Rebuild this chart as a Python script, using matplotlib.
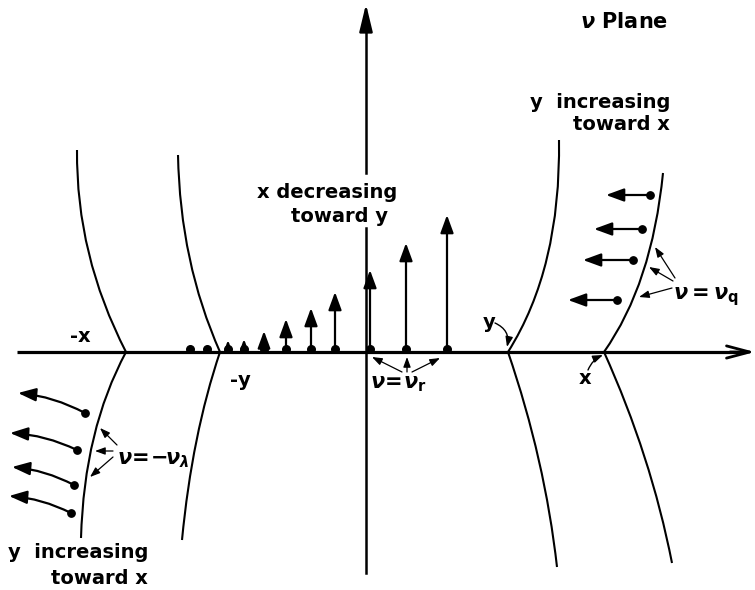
import matplotlib
matplotlib.use("Agg")
import matplotlib.pyplot as plt
from matplotlib.path import Path
from matplotlib.patches import PathPatch

plt.rcParams.update({
    'font.family': 'DejaVu Sans',
    'font.weight': 'bold',
    'mathtext.fontset': 'dejavusans',
})

# ── data (picture coordinates, y grows downward) ─────────────────────────
# dots on the real axis and the height each vertical arrow reaches
axis_dot_x = [190, 207, 228, 244, 264, 286, 311, 335, 370, 406, 447]
axis_tip_y = [349, 349, 340, 339, 331, 319, 308, 292, 270, 243, 215]
AXIS_DOT_Y = 349

# branch curves: vertex on the axis, bezier control point, far end
branch_names = ['-x', '-y', 'y', 'x']
branch_vertex = [(126, 352), (220, 352), (508, 352), (604, 352)]
upper_ctrl = [(76, 255), (180, 262), (561, 268), (652, 284)]
upper_end = [(77, 150), (178, 155), (559, 140), (663, 173)]
lower_ctrl = [(84, 430), (192, 435), (545, 460), (651, 456)]
lower_end = [(81, 538), (182, 540), (557, 567), (672, 563)]

# arrows from the ν = -ν_λ points (lower left), dot -> tip
left_dots = [(85, 413), (77, 450), (74, 485), (71, 513)]
left_tips = [(18, 393), (10, 433), (12, 467), (9, 496)]

# arrows from the ν = ν_q points (upper right), dot -> tip
right_dots = [(650, 195), (642, 229), (633, 260), (617, 300)]
right_tips = [(606, 195), (594, 229), (583, 260), (568, 300)]

# pointer arrows from labels to the curves / dots
lam_from = [(117, 445), (113, 451), (113, 457)]
lam_to = [(100, 428), (95, 451), (90, 477)]
q_from = [(675, 278), (673, 281), (672, 288)]
q_to = [(655, 247), (649, 267), (639, 297)]
r_from = [(402, 372), (407, 372), (412, 372)]
r_to = [(372, 357), (407, 357), (440, 358)]

fig = plt.figure(figsize=(7.55, 5.9), dpi=100)
ax = fig.add_axes([0, 0, 1, 1])
ax.set_xlim(0, 755)
ax.set_ylim(590, 0)
ax.axis('off')

FS = 14


def arrow(p_from, p_to, lw=1.6, hl=0.6, hw=0.2, ms=18, rad=0.0, style='-|>'):
    ax.annotate('', xy=p_to, xytext=p_from,
                arrowprops=dict(arrowstyle=f'{style},head_length={hl},head_width={hw}',
                                lw=lw, color='k', mutation_scale=ms,
                                shrinkA=0, shrinkB=0,
                                connectionstyle=f'arc3,rad={rad}'))


# ── axes ─────────────────────────────────────────────────────────────────
ax.plot([17, 745], [352, 352], color='k', lw=2.3, solid_capstyle='butt')
arrow((730, 352), (755, 352), lw=2.0, hl=0.83, hw=0.22, ms=20, style='->')
ax.plot([366, 366], [573, 228], color='k', lw=1.8)
ax.plot([366, 366], [173, 20], color='k', lw=1.8)
arrow((366, 30), (366, 4), lw=1.8, hl=0.83, hw=0.2, ms=20)

# ── branch curves ───────────────────────────────────────────────────────
codes = [Path.MOVETO, Path.CURVE3, Path.CURVE3]
for v, uc, ue, lc, le in zip(branch_vertex, upper_ctrl, upper_end,
                             lower_ctrl, lower_end):
    for c, e in ((uc, ue), (lc, le)):
        ax.add_patch(PathPatch(Path([v, c, e], codes), fill=False,
                               lw=1.5, ec='k'))

# ── dots and vertical arrows on the axis ─────────────────────────────────
for x, ty in zip(axis_dot_x, axis_tip_y):
    length = AXIS_DOT_Y - ty
    if length > 0:
        ms = min(18, length * 0.72 / 0.6 * 0.8)
        arrow((x, AXIS_DOT_Y), (x, ty), lw=1.6, hl=0.6, hw=0.22, ms=ms)
ax.scatter(axis_dot_x, [AXIS_DOT_Y] * len(axis_dot_x), s=30, color='k', zorder=3)

# ── side arrows ──────────────────────────────────────────────────────────
for d, t in zip(left_dots, left_tips):
    arrow(d, t, lw=1.6, hl=0.6, hw=0.22, ms=18, rad=0.1)
ax.scatter(*zip(*left_dots), s=28, color='k', zorder=3)

for d, t in zip(right_dots, right_tips):
    arrow(d, t, lw=1.6, hl=0.6, hw=0.22, ms=18)
ax.scatter(*zip(*right_dots), s=28, color='k', zorder=3)

# ── pointer arrows ───────────────────────────────────────────────────────
for a, b in list(zip(lam_from, lam_to)) + list(zip(q_from, q_to)) + list(zip(r_from, r_to)):
    arrow(a, b, lw=0.9, hl=0.6, hw=0.22, ms=10)

arrow((495, 323), (507, 347), lw=1.0, hl=0.6, hw=0.22, ms=10, rad=-0.4)
arrow((588, 370), (603, 355), lw=1.0, hl=0.6, hw=0.22, ms=10, rad=-0.2)

# ── labels ───────────────────────────────────────────────────────────────
ax.text(624, 22, r'$\nu$ Plane', fontsize=FS + 1, ha='center', va='center')
ax.text(670, 103, 'y  increasing', fontsize=FS, ha='right', va='center')
ax.text(670, 124, 'toward x', fontsize=FS, ha='right', va='center')
ax.text(148, 553, 'y  increasing', fontsize=FS, ha='right', va='center')
ax.text(148, 578, 'toward x', fontsize=FS, ha='right', va='center')
ax.text(397, 193, 'x decreasing', fontsize=FS, ha='right', va='center')
ax.text(291, 216, 'toward y', fontsize=FS, ha='left', va='center')

ax.text(80, 336, '-x', fontsize=FS, ha='center', va='center')
ax.text(240, 381, '-y', fontsize=FS, ha='center', va='center')
ax.text(489, 323, 'y', fontsize=FS, ha='center', va='center')
ax.text(585, 378, 'x', fontsize=FS, ha='center', va='center')

ax.text(117, 460, r'$\nu\!=\!\!-\!\!\nu_\lambda$', fontsize=FS + 1, ha='left', va='center')
ax.text(673, 297, r'$\nu=\nu_\mathbf{q}$', fontsize=FS + 1, ha='left', va='center')
ax.text(370, 384, r'$\nu\!=\!\nu_\mathbf{r}$', fontsize=FS + 1, ha='left', va='center')

fig.savefig('out.png', dpi=100)
